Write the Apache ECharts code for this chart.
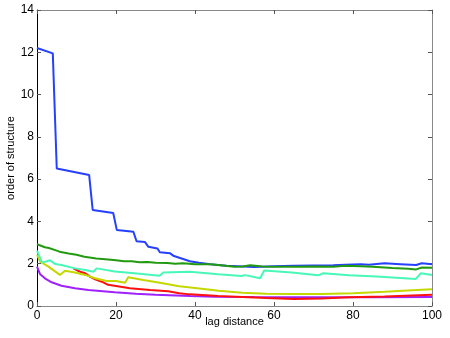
<!DOCTYPE html>
<html>
<head>
<meta charset="utf-8">
<script src="https://cdn.jsdelivr.net/npm/echarts@6/dist/echarts.min.js"></script>
<style>
  html, body { margin: 0; padding: 0; background: #fff; }
  #chart { width: 450px; height: 338px; }
</style>
</head>
<body>
<div id="chart"></div>
<script>
// [lag, order] pairs
const blueLine = [[0,12.2],[4,11.95],[5,6.5],[13.2,6.2],[14.1,4.54],[19.3,4.4],[20.2,3.6],[24.4,3.51],[25.2,3.06],[27.3,3.03],[28.2,2.8],[30.5,2.72],[31.1,2.54],[33.7,2.49],[34.5,2.38],[36.6,2.25],[38.7,2.12],[41,2.05],[43.8,1.97],[48,1.9],[55,1.85],[60,1.88],[65,1.9],[70,1.92],[75,1.93],[78,1.95],[82,1.97],[84,1.95],[88,2.02],[92,1.98],[96,1.94],[97.4,2.02],[100,1.97]]
const greenLine = [[0,2.92],[1,2.85],[2,2.78],[3,2.74],[5,2.62],[6,2.55],[8,2.48],[10,2.42],[12,2.33],[15,2.25],[18,2.2],[20,2.16],[22,2.12],[24,2.12],[26,2.07],[28,2.08],[30,2.05],[33,2.03],[35,2.0],[37,2.02],[40,1.98],[44,1.97],[47,1.92],[50,1.86],[52,1.87],[54,1.93],[57,1.87],[60,1.86],[65,1.86],[70,1.87],[75,1.86],[78,1.9],[82,1.88],[85,1.86],[90,1.8],[94,1.76],[96,1.73],[97.4,1.82],[100,1.81]]
const cyanLine = [[0,2.62],[1.3,2.05],[3.3,2.16],[4.6,1.99],[6.2,1.94],[9.6,1.78],[12.2,1.7],[14.3,1.62],[15.1,1.78],[19.7,1.63],[26,1.52],[31,1.43],[32,1.58],[38.7,1.62],[45.9,1.5],[51.8,1.42],[52.7,1.46],[56.5,1.31],[57.5,1.68],[64.5,1.59],[71.2,1.45],[72.5,1.55],[79,1.45],[86,1.39],[86.4,1.42],[95.9,1.28],[97.2,1.55],[100,1.47]]
const yellowLine = [[0,2.42],[0.8,2.1],[2.9,1.86],[5.8,1.47],[7.1,1.67],[9.6,1.58],[12.2,1.47],[14.7,1.31],[17.6,1.18],[20,1.18],[22.3,1.1],[23.1,1.36],[26.9,1.23],[31.1,1.1],[36,0.93],[40,0.85],[46,0.72],[52,0.63],[58,0.58],[65,0.57],[72,0.57],[80,0.6],[88,0.67],[95,0.75],[100,0.79]]
const redLine = [[9.2,1.78],[10.9,1.62],[12.2,1.55],[13.4,1.39],[14.7,1.26],[16.4,1.15],[18,1.0],[20,0.95],[23.5,0.84],[28.6,0.76],[33.2,0.7],[36,0.6],[38.7,0.55],[45.9,0.47],[52,0.43],[58,0.38],[65,0.33],[72,0.35],[79,0.41],[88,0.45],[95,0.5],[100,0.53]]
const purpleLine = [[0,1.86],[0.8,1.5],[2,1.31],[3.7,1.12],[6.2,0.96],[9.6,0.84],[13,0.76],[19.7,0.65],[25,0.58],[30,0.53],[38.7,0.47],[45,0.44],[55,0.42],[70,0.41],[85,0.41],[100,0.42]]

const chart = echarts.init(document.getElementById('chart'))

const font = 'Liberation Sans, Arial, Helvetica, sans-serif'
const axisTick = { show: true, inside: true, length: 4, lineStyle: { color: '#555' } }

const mkLine = (data, color) => ({
  type: 'line',
  data: data,
  showSymbol: false,
  symbol: 'none',
  animation: false,
  lineStyle: { color: color, width: 2 },
  itemStyle: { color: color }
})

chart.setOption({
  animation: false,
  grid: { left: 37, right: 18, top: 10, bottom: 32, containLabel: false, outerBoundsMode: 'none' },
  xAxis: [
    {
      type: 'value', min: 0, max: 100, interval: 20,
      name: 'lag distance', nameLocation: 'middle', nameGap: 10, nameMoveOverlap: false,
      nameTextStyle: { fontFamily: font, fontSize: 11, color: '#000' },
      axisLine: { show: true, onZero: false, lineStyle: { color: '#888' } },
      axisTick: axisTick,
      axisLabel: { fontFamily: font, fontSize: 12, color: '#000', margin: 4 },
      splitLine: { show: false }
    },
    {
      type: 'value', min: 0, max: 100, interval: 20, position: 'top',
      axisLine: { show: true, onZero: false, lineStyle: { color: '#888' } },
      axisTick: axisTick, axisLabel: { show: false }, splitLine: { show: false }
    }
  ],
  yAxis: [
    {
      type: 'value', min: 0, max: 14, interval: 2,
      name: 'order of structure', nameLocation: 'middle', nameGap: 21, nameMoveOverlap: false,
      nameTextStyle: { fontFamily: font, fontSize: 11, color: '#000' },
      axisLine: { show: true, onZero: false, lineStyle: { color: '#000' } },
      axisTick: axisTick,
      axisLabel: { fontFamily: font, fontSize: 12, color: '#000', margin: 3 },
      splitLine: { show: false }
    },
    {
      type: 'value', min: 0, max: 14, interval: 2, position: 'right',
      axisLine: { show: true, onZero: false, lineStyle: { color: '#888' } },
      axisTick: axisTick, axisLabel: { show: false }, splitLine: { show: false }
    }
  ],
  series: [
    mkLine(purpleLine, '#a020ff'),
    mkLine(redLine, '#ff1010'),
    mkLine(yellowLine, '#c4d800'),
    mkLine(cyanLine, '#48f8b8'),
    mkLine(blueLine, '#2540ff'),
    mkLine(greenLine, '#229a10')
  ]
})
</script>
</body>
</html>
